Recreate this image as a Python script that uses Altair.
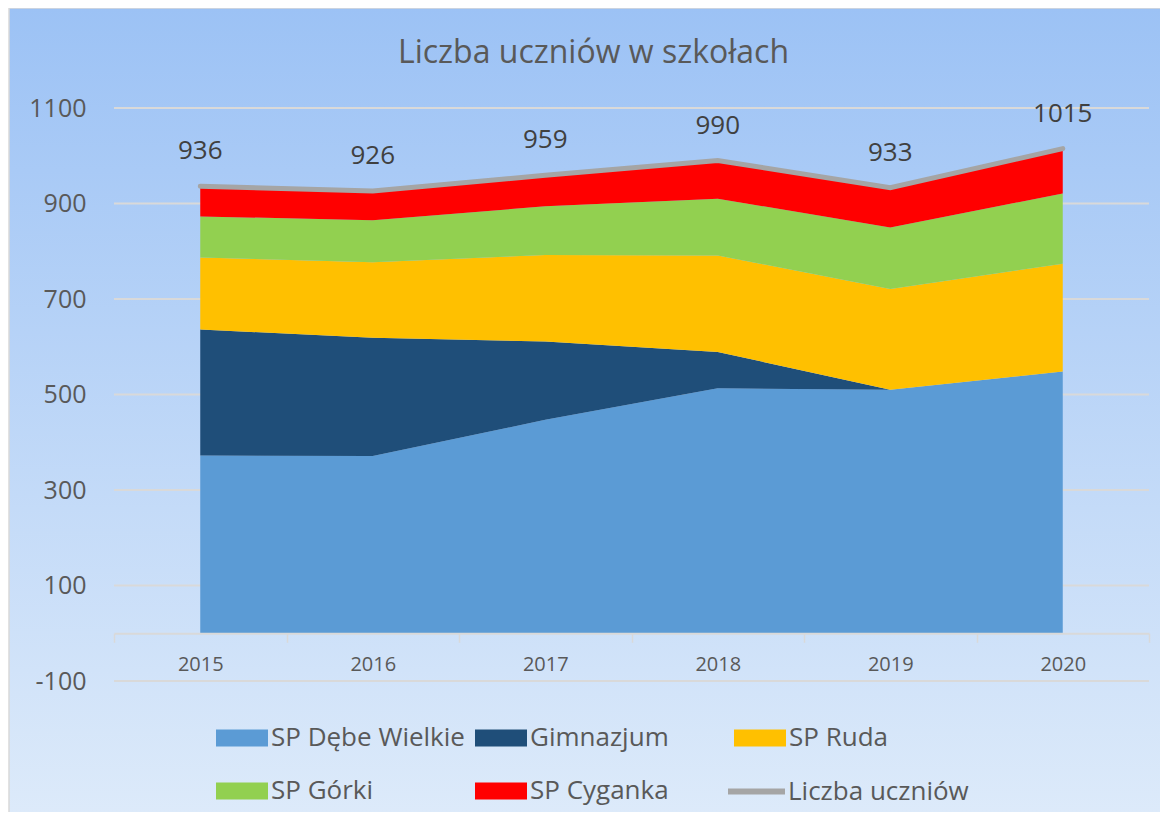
import altair as alt
import pandas as pd

years = [2015, 2016, 2017, 2018, 2019, 2020]
series_names = ["SP Dębe Wielkie", "Gimnazjum", "SP Ruda", "SP Górki", "SP Cyganka"]
series_colors = ["#5B9BD5", "#1F4E79", "#FFC000", "#92D050", "#FF0000"]
deb = [372, 371, 447, 513, 510, 548]
gim = [264, 248, 164, 76, 0, 0]
ruda = [151, 158, 181, 202, 211, 226]
gorki = [86, 88, 102, 119, 129, 147]
cyg = [63, 61, 65, 80, 83, 94]
totals = [936, 926, 959, 990, 933, 1015]
total_name = "Liczba uczniów"
y_ticks = [-100, 100, 300, 500, 700, 900, 1100]
title_text = "Liczba uczniów w szkołach"

FONT = "Open Sans"
W, H = 1035, 573
PAD_L, PAD_T, PAD_R, PAD_B = 106, 100, 11, 131

rows = []
for si, (name, vals) in enumerate(zip(series_names, [deb, gim, ruda, gorki, cyg])):
    for y, v in zip(years, vals):
        rows.append({"year": str(y), "series": name, "value": v, "ord": si})
df_area = pd.DataFrame(rows)
df_total = pd.DataFrame({"year": [str(y) for y in years], "total": totals,
                         "name": [total_name] * len(years)})
df_grid = pd.DataFrame({"v": y_ticks})
df_bg = pd.DataFrame({"a": [0]})

yscale = alt.Scale(domain=[-100, 1100], nice=False, zero=False)
xscale = alt.Scale(type="band", paddingInner=0, paddingOuter=0)
xaxis = alt.Axis(title=None, tickBand="extent", ticks=True, tickSize=9, tickColor="#D9D9D9",
                 tickWidth=1.5, domainColor="#D9D9D9", domainWidth=2, labelFont=FONT,
                 labelFontSize=20, labelColor="#595959", labelPadding=12, labelAngle=0,
                 offset=-(H * 100 / 1200), zindex=1, grid=False)
yaxis = alt.Axis(title=None, values=y_ticks, ticks=False, domain=False, grid=False,
                 labelFont=FONT, labelFontSize=25, labelColor="#595959", labelPadding=28,
                 labelExpr="'' + datum.value", zindex=1)
X = alt.X("year:O", scale=xscale, axis=xaxis, bandPosition=0.5)

bg = alt.Chart(df_bg).mark_rect(
    fill=alt.Gradient(gradient="linear", x1=0, y1=0, x2=0, y2=1,
                      stops=[alt.GradientStop(color="#9CC2F5", offset=0),
                             alt.GradientStop(color="#DEEBFA", offset=1)]),
    stroke="#D9D9D9", strokeWidth=1.5,
).encode(x=alt.value(-PAD_L + 1), x2=alt.value(W + PAD_R + 20),
         y=alt.value(-PAD_T), y2=alt.value(H + PAD_B + 20))

grid = alt.Chart(df_grid).mark_rule(color="#D9D9D9", strokeWidth=2).encode(
    y=alt.Y("v:Q", scale=yscale, axis=yaxis), x=alt.value(0), x2=alt.value(W))

areas = alt.Chart(df_area).mark_area(opacity=1).encode(
    x=X,
    y=alt.Y("value:Q", stack="zero", scale=yscale, axis=yaxis),
    color=alt.Color("series:N", scale=alt.Scale(domain=series_names, range=series_colors),
                    legend=alt.Legend(title=None, orient="none", legendX=102, legendY=604,
                                      direction="horizontal",
                                      columns=3, gridAlign="all", columnPadding=10, rowPadding=14,
                                      symbolType="M-1,-0.327L1,-0.327L1,0.327L-1,0.327Z",
                                      symbolSize=2704, symbolStrokeWidth=0, symbolOpacity=1,
                                      labelOffset=3, labelFont=FONT, labelFontSize=26,
                                      labelColor="#595959", padding=0, labelLimit=400)),
    order=alt.Order("ord:Q", sort="ascending"),
)

line = alt.Chart(df_total).mark_line(strokeWidth=5, strokeCap="round").encode(
    x=X,
    y=alt.Y("total:Q", scale=yscale, axis=yaxis),
    stroke=alt.Stroke("name:N", scale=alt.Scale(domain=[total_name], range=["#A5A5A5"]),
                      legend=alt.Legend(title=None, orient="none", legendX=611, legendY=652,
                                        symbolType="stroke", symbolSize=3249,
                                        symbolStrokeWidth=6, labelOffset=0, labelFont=FONT,
                                        labelFontSize=26, labelColor="#595959", padding=0,
                                        labelLimit=400)),
)

labels = alt.Chart(df_total).mark_text(dy=-35, fontSize=26, color="#404040", font=FONT).encode(
    x=X, y=alt.Y("total:Q", scale=yscale, axis=yaxis), text="total:Q")

chart = alt.layer(bg, grid, areas, line, labels).properties(
    width=W, height=H,
    padding={"left": PAD_L, "top": PAD_T, "right": PAD_R, "bottom": PAD_B},
    autosize=alt.AutoSizeParams(type="none"),
    title=alt.TitleParams(title_text, font=FONT, fontSize=32, fontWeight="normal",
                          color="#595959", anchor="middle", frame="group", dx=-38,
                          baseline="alphabetic", offset=-88, zindex=1),
).configure_view(strokeWidth=0).configure(background="white")

chart.save("out.html", embed_options={"renderer": "svg", "actions": False})
